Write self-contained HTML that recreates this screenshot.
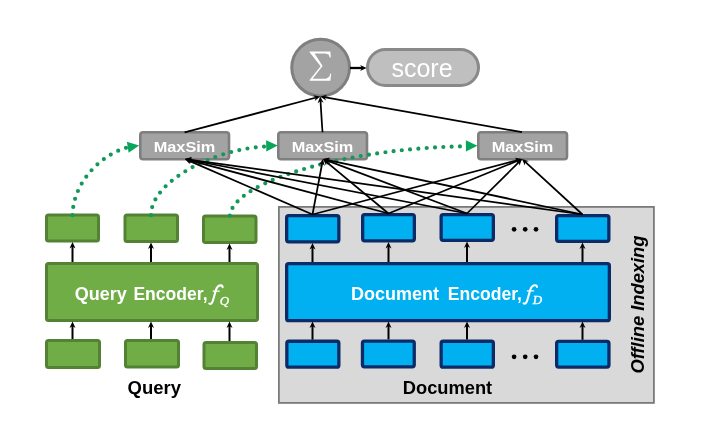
<!DOCTYPE html>
<html><head><meta charset="utf-8"><style>
html,body{margin:0;padding:0;background:#fff;width:724px;height:434px;overflow:hidden;}
svg{display:block;will-change:transform;}
</style></head><body>
<svg width="724" height="434" viewBox="0 0 724 434">
<rect x="278.9" y="206.9" width="375" height="196" fill="#d9d9d9" stroke="#7a7a7a" stroke-width="1.8"/>
<rect x="46.5" y="215.0" width="52" height="26.0" rx="2.0" fill="#70ad47" stroke="#548235" stroke-width="3"/>
<rect x="125.0" y="215.0" width="52.5" height="26.5" rx="2.0" fill="#70ad47" stroke="#548235" stroke-width="3"/>
<rect x="203.5" y="216.0" width="52.5" height="26.5" rx="2.0" fill="#70ad47" stroke="#548235" stroke-width="3"/>
<rect x="46.5" y="340.5" width="53" height="27" rx="2.0" fill="#70ad47" stroke="#548235" stroke-width="3"/>
<rect x="125.5" y="340.5" width="53" height="26.5" rx="2.0" fill="#70ad47" stroke="#548235" stroke-width="3"/>
<rect x="204.0" y="342.5" width="52.5" height="26" rx="2.0" fill="#70ad47" stroke="#548235" stroke-width="3"/>
<rect x="46.5" y="263.5" width="211" height="57" rx="2.0" fill="#70ad47" stroke="#548235" stroke-width="3"/>
<rect x="286.65" y="215.65" width="52.2" height="26.2" rx="2.0" fill="#00b0f0" stroke="#0a2a68" stroke-width="3.3"/>
<rect x="362.65" y="214.65" width="51.7" height="26.2" rx="2.0" fill="#00b0f0" stroke="#0a2a68" stroke-width="3.3"/>
<rect x="441.15" y="214.65" width="52.2" height="25.7" rx="2.0" fill="#00b0f0" stroke="#0a2a68" stroke-width="3.3"/>
<rect x="556.65" y="215.65" width="52.2" height="25.7" rx="2.0" fill="#00b0f0" stroke="#0a2a68" stroke-width="3.3"/>
<rect x="286.84999999999997" y="341.25" width="52.000000000000014" height="25.899999999999988" rx="2.0" fill="#00b0f0" stroke="#0a2a68" stroke-width="3.3"/>
<rect x="362.45" y="341.04999999999995" width="51.79999999999997" height="25.800000000000022" rx="2.0" fill="#00b0f0" stroke="#0a2a68" stroke-width="3.3"/>
<rect x="441.15" y="341.25" width="52.2" height="25.899999999999988" rx="2.0" fill="#00b0f0" stroke="#0a2a68" stroke-width="3.3"/>
<rect x="556.65" y="341.45" width="52.300000000000026" height="25.599999999999977" rx="2.0" fill="#00b0f0" stroke="#0a2a68" stroke-width="3.3"/>
<rect x="286.65" y="263.65" width="322.7" height="57.000000000000014" rx="2.0" fill="#00b0f0" stroke="#0a2a68" stroke-width="3.3"/>
<line x1="72.50" y1="262.00" x2="72.50" y2="246.00" stroke="#000" stroke-width="2.0"/><path d="M72.50,242.00 L75.50,248.50 L72.50,246.50 L69.50,248.50 Z" fill="#000"/>
<line x1="72.50" y1="339.00" x2="72.50" y2="325.50" stroke="#000" stroke-width="2.0"/><path d="M72.50,321.50 L75.50,328.00 L72.50,326.00 L69.50,328.00 Z" fill="#000"/>
<line x1="151.00" y1="262.00" x2="151.00" y2="246.50" stroke="#000" stroke-width="2.0"/><path d="M151.00,242.50 L154.00,249.00 L151.00,247.00 L148.00,249.00 Z" fill="#000"/>
<line x1="151.00" y1="339.00" x2="151.00" y2="325.50" stroke="#000" stroke-width="2.0"/><path d="M151.00,321.50 L154.00,328.00 L151.00,326.00 L148.00,328.00 Z" fill="#000"/>
<line x1="229.50" y1="262.00" x2="229.50" y2="247.50" stroke="#000" stroke-width="2.0"/><path d="M229.50,243.50 L232.50,250.00 L229.50,248.00 L226.50,250.00 Z" fill="#000"/>
<line x1="229.50" y1="341.00" x2="229.50" y2="325.50" stroke="#000" stroke-width="2.0"/><path d="M229.50,321.50 L232.50,328.00 L229.50,326.00 L226.50,328.00 Z" fill="#000"/>
<line x1="312.50" y1="262.00" x2="312.50" y2="247.00" stroke="#000" stroke-width="2.0"/><path d="M312.50,243.00 L315.50,249.50 L312.50,247.50 L309.50,249.50 Z" fill="#000"/>
<line x1="312.50" y1="339.60" x2="312.50" y2="325.50" stroke="#000" stroke-width="2.0"/><path d="M312.50,321.50 L315.50,328.00 L312.50,326.00 L309.50,328.00 Z" fill="#000"/>
<line x1="388.50" y1="262.00" x2="388.50" y2="246.00" stroke="#000" stroke-width="2.0"/><path d="M388.50,242.00 L391.50,248.50 L388.50,246.50 L385.50,248.50 Z" fill="#000"/>
<line x1="388.50" y1="339.40" x2="388.50" y2="325.50" stroke="#000" stroke-width="2.0"/><path d="M388.50,321.50 L391.50,328.00 L388.50,326.00 L385.50,328.00 Z" fill="#000"/>
<line x1="467.00" y1="262.00" x2="467.00" y2="245.50" stroke="#000" stroke-width="2.0"/><path d="M467.00,241.50 L470.00,248.00 L467.00,246.00 L464.00,248.00 Z" fill="#000"/>
<line x1="467.00" y1="339.60" x2="467.00" y2="325.50" stroke="#000" stroke-width="2.0"/><path d="M467.00,321.50 L470.00,328.00 L467.00,326.00 L464.00,328.00 Z" fill="#000"/>
<line x1="582.50" y1="262.00" x2="582.50" y2="246.50" stroke="#000" stroke-width="2.0"/><path d="M582.50,242.50 L585.50,249.00 L582.50,247.00 L579.50,249.00 Z" fill="#000"/>
<line x1="582.50" y1="339.80" x2="582.50" y2="325.50" stroke="#000" stroke-width="2.0"/><path d="M582.50,321.50 L585.50,328.00 L582.50,326.00 L579.50,328.00 Z" fill="#000"/>
<circle cx="514.1" cy="229.3" r="2.35" fill="#000"/>
<circle cx="525.2" cy="229.3" r="2.35" fill="#000"/>
<circle cx="536.0" cy="229.3" r="2.35" fill="#000"/>
<circle cx="514.1" cy="356.8" r="2.35" fill="#000"/>
<circle cx="525.2" cy="356.8" r="2.35" fill="#000"/>
<circle cx="536.0" cy="356.8" r="2.35" fill="#000"/>
<rect x="140.3" y="132.3" width="88.70000000000002" height="26.9" rx="2.8" fill="#a3a3a3" stroke="#7f7f7f" stroke-width="2.6"/>
<rect x="278.3" y="132.3" width="88.70000000000002" height="26.9" rx="2.8" fill="#a3a3a3" stroke="#7f7f7f" stroke-width="2.6"/>
<rect x="478.3" y="132.3" width="88.69999999999996" height="26.9" rx="2.8" fill="#a3a3a3" stroke="#7f7f7f" stroke-width="2.6"/>
<text x="153.7" y="151.5" textLength="61.6" lengthAdjust="spacingAndGlyphs" style="font-family:'Liberation Sans';font-weight:bold;font-size:14.8px" fill="#fff">MaxSim</text>
<text x="291.7" y="151.5" textLength="61.6" lengthAdjust="spacingAndGlyphs" style="font-family:'Liberation Sans';font-weight:bold;font-size:14.8px" fill="#fff">MaxSim</text>
<text x="491.7" y="151.5" textLength="61.6" lengthAdjust="spacingAndGlyphs" style="font-family:'Liberation Sans';font-weight:bold;font-size:14.8px" fill="#fff">MaxSim</text>
<ellipse cx="320.65" cy="67.6" rx="28.9" ry="28.4" fill="#a3a3a3" stroke="#7f7f7f" stroke-width="3"/>
<polygon fill="#fff" points="309.6,51.4 330.4,51.4 330.8,57.4 329.8,57.4 328.6,54.6 325.5,53.5 314.6,53.5 322.6,66.0 312.6,78.8 326.2,78.8 329.4,76.6 330.4,73.4 331.2,73.4 330.4,80.8 309.6,80.8 309.6,80.0 320.6,66.2 309.6,52.2"/>
<rect x="367.5" y="49.5" width="111" height="36" rx="18" fill="#bfbfbf" stroke="#898989" stroke-width="3"/>
<text x="422" y="77.3" text-anchor="middle" style="font-family:'Liberation Sans';font-size:25px" fill="#fff">score</text>
<path d="M72.5,215.2 C73.21,180.2 104.6,151.0 132.77,146.2" fill="none" stroke="#14985a" stroke-width="4.2" stroke-linecap="round" stroke-dasharray="0 8.3" stroke-dashoffset="0"/>
<polygon points="139.1,145.5 128.63,152.84 126.86,141.78" fill="#08a65a"/>
<path d="M151,215.2 C151.01,180.6 217.55,146.9 270.4,146.4" fill="none" stroke="#14985a" stroke-width="4.2" stroke-linecap="round" stroke-dasharray="0 8.3" stroke-dashoffset="0"/>
<polygon points="277.7,145.6 266.32,151.45 266.08,140.25" fill="#08a65a"/>
<path d="M229.8,215.7 C233.95,179.4 356.58,146.9 469.51,146.3" fill="none" stroke="#14985a" stroke-width="4.2" stroke-linecap="round" stroke-dasharray="0 8.3" stroke-dashoffset="0"/>
<polygon points="477.4,145.7 465.96,151.41 465.84,140.21" fill="#08a65a"/>
<line x1="312.50" y1="214.50" x2="188.67" y2="160.60" stroke="#000" stroke-width="1.75"/><path d="M185.00,159.00 L192.16,158.84 L189.13,160.80 L189.76,164.34 Z" fill="#000"/>
<line x1="312.50" y1="214.50" x2="322.26" y2="162.93" stroke="#000" stroke-width="1.75"/><path d="M323.00,159.00 L324.74,165.94 L322.16,163.42 L318.84,164.83 Z" fill="#000"/>
<line x1="312.50" y1="214.50" x2="518.13" y2="160.02" stroke="#000" stroke-width="1.75"/><path d="M522.00,159.00 L516.48,163.56 L517.65,160.15 L514.95,157.76 Z" fill="#000"/>
<line x1="388.50" y1="213.50" x2="188.86" y2="160.03" stroke="#000" stroke-width="1.75"/><path d="M185.00,159.00 L192.05,157.78 L189.35,160.16 L190.50,163.58 Z" fill="#000"/>
<line x1="388.50" y1="213.50" x2="326.07" y2="161.56" stroke="#000" stroke-width="1.75"/><path d="M323.00,159.00 L329.92,160.85 L326.46,161.88 L326.08,165.46 Z" fill="#000"/>
<line x1="388.50" y1="213.50" x2="518.30" y2="160.51" stroke="#000" stroke-width="1.75"/><path d="M522.00,159.00 L517.12,164.23 L517.83,160.70 L514.85,158.68 Z" fill="#000"/>
<line x1="467.00" y1="213.50" x2="188.93" y2="159.76" stroke="#000" stroke-width="1.75"/><path d="M185.00,159.00 L191.95,157.29 L189.42,159.85 L190.81,163.18 Z" fill="#000"/>
<line x1="467.00" y1="213.50" x2="326.74" y2="160.42" stroke="#000" stroke-width="1.75"/><path d="M323.00,159.00 L330.14,158.50 L327.21,160.59 L328.02,164.11 Z" fill="#000"/>
<line x1="467.00" y1="213.50" x2="519.16" y2="161.82" stroke="#000" stroke-width="1.75"/><path d="M522.00,159.00 L519.49,165.71 L518.80,162.17 L515.27,161.44 Z" fill="#000"/>
<line x1="582.50" y1="214.50" x2="188.96" y2="159.55" stroke="#000" stroke-width="1.75"/><path d="M185.00,159.00 L191.85,156.93 L189.46,159.62 L191.02,162.87 Z" fill="#000"/>
<line x1="582.50" y1="214.50" x2="326.91" y2="159.84" stroke="#000" stroke-width="1.75"/><path d="M323.00,159.00 L329.98,157.43 L327.40,159.94 L328.73,163.29 Z" fill="#000"/>
<line x1="582.50" y1="214.50" x2="524.95" y2="161.70" stroke="#000" stroke-width="1.75"/><path d="M522.00,159.00 L528.82,161.18 L525.32,162.04 L524.76,165.60 Z" fill="#000"/>
<line x1="184.60" y1="132.40" x2="316.33" y2="97.52" stroke="#000" stroke-width="1.75"/><path d="M320.20,96.50 L314.68,101.06 L315.85,97.65 L313.15,95.26 Z" fill="#000"/>
<line x1="322.50" y1="132.20" x2="320.46" y2="100.49" stroke="#000" stroke-width="1.75"/><path d="M320.20,96.50 L323.61,102.79 L320.49,100.99 L317.62,103.18 Z" fill="#000"/>
<line x1="522.00" y1="132.20" x2="324.14" y2="97.20" stroke="#000" stroke-width="1.75"/><path d="M320.20,96.50 L327.12,94.68 L324.63,97.28 L326.08,100.59 Z" fill="#000"/>
<line x1="350.00" y1="68.00" x2="362.60" y2="68.00" stroke="#000" stroke-width="2.3"/><path d="M366.60,68.00 L360.10,71.00 L362.10,68.00 L360.10,65.00 Z" fill="#000"/>
<text x="74.8" y="299.5" style="font-family:'Liberation Sans';font-weight:bold;font-size:18px" fill="#fff">Query</text>
<text x="133.4" y="299.5" textLength="74.2" lengthAdjust="spacingAndGlyphs" style="font-family:'Liberation Sans';font-weight:bold;font-size:18px" fill="#fff">Encoder,</text>
<g transform="translate(-314.3,0.2)" fill="none" stroke="#fff" stroke-linecap="round"><path d="M523.6,303.4 C525.4,304.4 526.7,302.6 527.5,299.6 L530.1,290.2 C531.1,286.8 533,285.1 535.3,285.2 C536.4,285.3 537,286 536.9,286.9" stroke-width="2.1"/><path d="M527.4,290.9 L533.6,290.9" stroke-width="1.4"/></g>
<text x="219.8" y="305.4" style="font-family:'Liberation Serif';font-style:italic;font-size:13px" fill="#fff" stroke="#fff" stroke-width="0.35">Q</text>
<text x="351.0" y="299.5" style="font-family:'Liberation Sans';font-weight:bold;font-size:18px" fill="#fff">Document</text>
<text x="447.8" y="299.5" textLength="74.2" lengthAdjust="spacingAndGlyphs" style="font-family:'Liberation Sans';font-weight:bold;font-size:18px" fill="#fff">Encoder,</text>
<g transform="translate(0,0)" fill="none" stroke="#fff" stroke-linecap="round"><path d="M523.6,303.4 C525.4,304.4 526.7,302.6 527.5,299.6 L530.1,290.2 C531.1,286.8 533,285.1 535.3,285.2 C536.4,285.3 537,286 536.9,286.9" stroke-width="2.1"/><path d="M527.4,290.9 L533.6,290.9" stroke-width="1.4"/></g>
<text x="532.8" y="303.9" style="font-family:'Liberation Serif';font-style:italic;font-size:13px" fill="#fff" stroke="#fff" stroke-width="0.35">D</text>
<text x="127.5" y="394.3" textLength="53.5" lengthAdjust="spacingAndGlyphs" style="font-family:'Liberation Sans';font-weight:bold;font-size:18px" fill="#000">Query</text>
<text x="402.8" y="393.8" textLength="89.4" lengthAdjust="spacingAndGlyphs" style="font-family:'Liberation Sans';font-weight:bold;font-size:18px" fill="#000">Document</text>
<text transform="translate(643.8,304.5) rotate(-90)" text-anchor="middle" textLength="138.0" lengthAdjust="spacingAndGlyphs" style="font-family:'Liberation Sans';font-weight:bold;font-style:italic;font-size:18px" fill="#000">Offline Indexing</text>
</svg>
</body></html>
